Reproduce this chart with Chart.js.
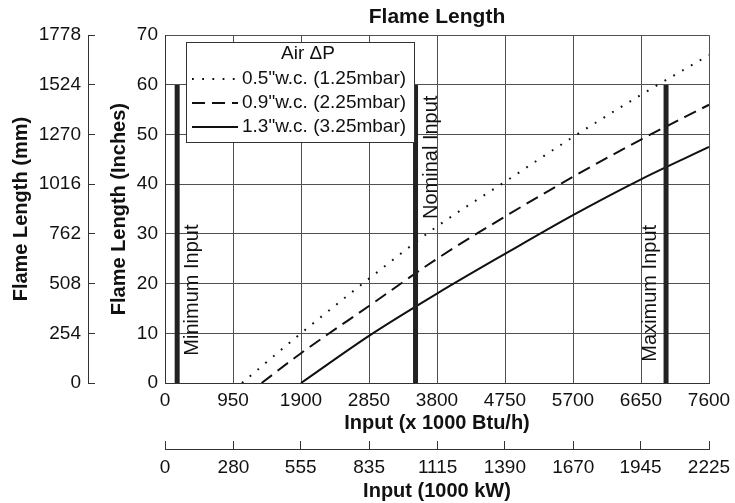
<!DOCTYPE html>
<html>
<head>
<meta charset="utf-8">
<script src="https://cdn.jsdelivr.net/npm/chart.js@4.4.0/dist/chart.umd.min.js"></script>
<style>
  html, body { margin: 0; padding: 0; background: #fff; }
  #wrap { width: 735px; height: 503px; }
</style>
</head>
<body>
<div id="wrap"><canvas id="flame"></canvas></div>
<script>
// flame length (inches) against input (x 1000 Btu/h)
const inputLow = [1075, 1900, 2850, 3800, 4750, 5700, 6650, 7600];
const lengthLow = [0, 10, 21, 31.5, 40.5, 49.5, 58, 66];
const inputMid = [1350, 1900, 2850, 3800, 4750, 5700, 6650, 7600];
const lengthMid = [0, 6, 15.5, 25, 33.5, 41.5, 49, 56];
const inputHigh = [1900, 2850, 3800, 4750, 5700, 6650, 7600];
const lengthHigh = [0, 9.5, 18, 26, 33.8, 41, 47.5];

const seriesLabels = ['0.5"w.c. (1.25mbar)', '0.9"w.c. (2.25mbar)', '1.3"w.c. (3.25mbar)'];
const legendTitle = 'Air ΔP';

const markerNames = ['Minimum Input', 'Nominal Input', 'Maximum Input'];
const markerInputs = [170, 3500, 7000];
const markerTop = 60;

const btuTicks = [0, 950, 1900, 2850, 3800, 4750, 5700, 6650, 7600];
const kwTicks = [0, 280, 555, 835, 1115, 1390, 1670, 1945, 2225];
const inchTicks = [0, 10, 20, 30, 40, 50, 60, 70];
const mmTicks = [0, 254, 508, 762, 1016, 1270, 1524, 1778];

Chart.defaults.font.family = '"Liberation Sans", Arial, Helvetica, sans-serif';
Chart.defaults.color = '#111';

const ink = '#111';
const gridColor = '#505050';
const axisColor = '#333';
const tickFont = { size: 19 };
const labelFont = { size: 20, weight: 'bold' };

const toPoints = (xs, ys) => xs.map((x, i) => ({ x: x, y: ys[i] }));

const curves = [
  { label: seriesLabels[0], data: toPoints(inputLow, lengthLow), borderDash: [1.8, 8.4], borderWidth: 2 },
  { label: seriesLabels[1], data: toPoints(inputMid, lengthMid), borderDash: [13, 7], borderWidth: 2 },
  { label: seriesLabels[2], data: toPoints(inputHigh, lengthHigh), borderDash: [], borderWidth: 2 }
].map(d => Object.assign(d, {
  borderColor: ink, pointRadius: 0, cubicInterpolationMode: 'monotone',
  xAxisID: 'x', yAxisID: 'y', isCurve: true
}));

const markers = markerInputs.map((v, i) => ({
  label: markerNames[i],
  data: [{ x: v, y: 0 }, { x: v, y: markerTop }],
  borderColor: '#222', borderWidth: 5, pointRadius: 0, borderCapStyle: 'butt',
  xAxisID: 'x', yAxisID: 'y'
}));

// rotated captions beside the three input lines
const markerText = {
  id: 'markerText',
  afterDatasetsDraw(chart) {
    const { ctx, scales } = chart;
    const side = [21, 21, -10];
    const start = [5.5, 33, 4.3];
    ctx.save();
    ctx.font = '20px "Liberation Sans", Arial, sans-serif';
    ctx.fillStyle = ink;
    ctx.textAlign = 'left';
    ctx.textBaseline = 'alphabetic';
    markerInputs.forEach((v, i) => {
      ctx.save();
      ctx.translate(scales.x.getPixelForValue(v) + side[i], scales.y.getPixelForValue(start[i]));
      ctx.rotate(-Math.PI / 2);
      ctx.fillText(markerNames[i], 0, 0);
      ctx.restore();
    });
    ctx.restore();
  }
};

// boxed legend in the top-left of the plot
const airLegend = {
  id: 'airLegend',
  afterDatasetsDraw(chart) {
    const { ctx } = chart;
    const left = 186, top = 42, w = 228, h = 100;
    ctx.save();
    ctx.fillStyle = '#fff';
    ctx.fillRect(left, top, w, h);
    ctx.strokeStyle = axisColor;
    ctx.lineWidth = 1;
    ctx.strokeRect(left + 0.5, top + 0.5, w, h);
    ctx.font = '19px "Liberation Sans", Arial, sans-serif';
    ctx.fillStyle = ink;
    ctx.textBaseline = 'middle';
    ctx.textAlign = 'center';
    ctx.fillText(legendTitle, left + w / 2 + 8, top + 12);
    ctx.textAlign = 'left';
    chart.data.datasets.filter(d => d.isCurve).forEach((d, i) => {
      const y = top + 37 + i * 24;
      ctx.beginPath();
      ctx.setLineDash(d.borderDash);
      ctx.lineWidth = d.borderWidth;
      ctx.strokeStyle = d.borderColor;
      ctx.moveTo(left + 6, y);
      ctx.lineTo(left + 52, y);
      ctx.stroke();
      ctx.setLineDash([]);
      ctx.fillText(d.label, left + 56, y);
    });
    ctx.restore();
  }
};

// fixed box sizes so the plot area lands where the original has it
const fixHeight = h => s => { s.height = h; s.paddingLeft = 0; s.paddingRight = 0; };
const fixWidth = w => s => { s.width = w; };

new Chart(document.getElementById('flame'), {
  type: 'line',
  data: { datasets: [...markers, ...curves] },
  options: {
    responsive: true,
    maintainAspectRatio: false,
    animation: false,
    layout: { padding: { left: 0, right: 26, top: 0, bottom: 0 } },
    plugins: {
      legend: { display: false },
      tooltip: { enabled: false },
      title: {
        display: true, text: 'Flame Length', color: ink, fullSize: false,
        font: { size: 21, weight: 'bold' }, padding: { top: 5, bottom: 5 }
      }
    },
    scales: {
      x: {
        type: 'linear', position: 'bottom', min: 0, max: 7600, weight: 0,
        afterBuildTicks: s => { s.ticks = btuTicks.map(v => ({ value: v })); },
        afterFit: fixHeight(66),
        ticks: { padding: 6, font: tickFont, color: ink, maxRotation: 0, autoSkip: false, callback: v => String(v) },
        grid: { color: gridColor, lineWidth: 1, drawTicks: false },
        border: { color: axisColor, width: 1 },
        title: { display: true, text: 'Input (x 1000 Btu/h)', color: ink, font: labelFont, padding: { top: 0, bottom: 14 } }
      },
      xkw: {
        type: 'linear', position: 'bottom', min: 0, max: 2225, weight: 1,
        afterBuildTicks: s => { s.ticks = kwTicks.map(v => ({ value: v })); },
        afterFit: fixHeight(54),
        ticks: { padding: 15, font: tickFont, color: ink, maxRotation: 0, autoSkip: false, callback: v => String(v) },
        grid: { drawOnChartArea: false, drawTicks: true, tickLength: -8, color: axisColor, lineWidth: 1 },
        border: { color: axisColor, width: 1 },
        title: { display: true, text: 'Input (1000 kW)', color: ink, font: labelFont, padding: { top: 0, bottom: 0 } }
      },
      y: {
        type: 'linear', position: 'left', min: 0, max: 70, weight: 0,
        afterBuildTicks: s => { s.ticks = inchTicks.map(v => ({ value: v })); },
        afterFit: fixWidth(77),
        ticks: { padding: 7, font: tickFont, color: ink, callback: v => String(v) },
        grid: { color: gridColor, lineWidth: 1, drawTicks: false },
        border: { color: axisColor, width: 1 },
        title: { display: true, text: 'Flame Length (Inches)', color: ink, font: labelFont, padding: { top: 19, bottom: 0 } }
      },
      ymm: {
        type: 'linear', position: 'left', min: 0, max: 1778, weight: 1,
        afterBuildTicks: s => { s.ticks = mmTicks.map(v => ({ value: v })); },
        afterFit: fixWidth(88),
        ticks: { padding: 14, font: tickFont, color: ink, callback: v => String(v) },
        grid: { drawOnChartArea: false, drawTicks: true, tickLength: -7, color: axisColor, lineWidth: 1 },
        border: { color: axisColor, width: 1 },
        title: { display: true, text: 'Flame Length (mm)', color: ink, font: labelFont, padding: { top: 9, bottom: 0 } }
      }
    }
  },
  plugins: [markerText, airLegend]
});
</script>
</body>
</html>
